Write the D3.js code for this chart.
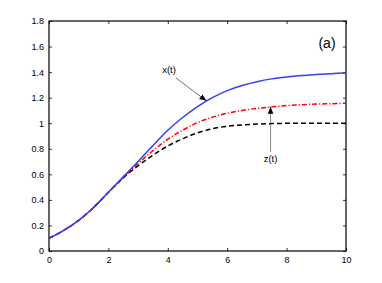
<!DOCTYPE html>
<html>
<head>
<meta charset="utf-8">
<script src="https://cdn.jsdelivr.net/npm/d3@7"></script>
<style>
  body { margin: 0; background: #fff; }
  text { font-family: "Liberation Sans", Arial, sans-serif; }
</style>
</head>
<body>
<svg id="chart" width="382" height="283"></svg>
<script>
// data
const tValues = [0, 0.5, 1, 1.5, 2, 2.5, 3, 3.5, 4, 4.5, 5, 5.5, 6, 6.5, 7, 7.5, 8, 8.5, 9, 9.5, 10];
const xSeries = [0.1, 0.162, 0.24, 0.34, 0.46, 0.58, 0.7, 0.825, 0.945, 1.045, 1.13, 1.2, 1.255, 1.295, 1.325, 1.347, 1.362, 1.373, 1.381, 1.388, 1.393];
const ySeries = [0.1, 0.162, 0.24, 0.34, 0.46, 0.575, 0.685, 0.785, 0.875, 0.945, 1.005, 1.047, 1.078, 1.1, 1.116, 1.128, 1.138, 1.145, 1.15, 1.153, 1.156];
const zSeries = [0.1, 0.162, 0.24, 0.34, 0.46, 0.572, 0.668, 0.75, 0.822, 0.878, 0.925, 0.957, 0.976, 0.987, 0.993, 0.997, 0.999, 1.0, 1.0, 1.0, 1.0];
const xTicks = [0, 2, 4, 6, 8, 10];
const yTicks = [0, 0.2, 0.4, 0.6, 0.8, 1, 1.2, 1.4, 1.6, 1.8];

const margin = { top: 21, right: 36, bottom: 32, left: 49 };
const width = 382, height = 283;
const innerWidth = width - margin.left - margin.right;
const innerHeight = height - margin.top - margin.bottom;

const svg = d3.select("#chart");
const g = svg.append("g").attr("transform", `translate(${margin.left},${margin.top})`);

const x = d3.scaleLinear().domain([0, 10]).range([0, innerWidth]);
const y = d3.scaleLinear().domain([0, 1.8]).range([innerHeight, 0]);

// axes, ticks pointing inward on all four sides
const styleAxis = (sel) => {
  sel.select(".domain").remove();
  sel.selectAll(".tick line").attr("stroke", "#000").attr("stroke-width", 0.8);
  sel.selectAll(".tick text").attr("fill", "#000").style("font-size", "9px");
};
const noLabels = (sel) => sel.selectAll(".tick text").remove();

g.append("g").attr("transform", `translate(0,${innerHeight})`)
  .call(d3.axisBottom(x).tickValues(xTicks).tickSize(-3).tickPadding(6).tickFormat(d3.format("d")))
  .call(styleAxis);
g.append("g")
  .call(d3.axisTop(x).tickValues(xTicks).tickSize(-3))
  .call(styleAxis).call(noLabels);
g.append("g")
  .call(d3.axisLeft(y).tickValues(yTicks).tickSize(-3).tickPadding(5).tickFormat(d3.format("~g")))
  .call(styleAxis);
g.append("g").attr("transform", `translate(${innerWidth},0)`)
  .call(d3.axisRight(y).tickValues(yTicks).tickSize(-3))
  .call(styleAxis).call(noLabels);

g.append("rect")
  .attr("width", innerWidth).attr("height", innerHeight)
  .attr("fill", "none").attr("stroke", "#000").attr("stroke-width", 1.2);

// curves
const line = d3.line().x((d, i) => x(tValues[i])).y((d) => y(d)).curve(d3.curveCatmullRom.alpha(0.5));

const series = [
  { values: zSeries, color: "#000", dash: "5,3" },
  { values: ySeries, color: "#ff0000", dash: "5,2,1.2,2" },
  { values: xSeries, color: "#2f3ff5", dash: null },
];

g.selectAll(".curve").data(series).enter()
  .append("path")
  .attr("class", "curve")
  .attr("d", (d) => line(d.values))
  .attr("fill", "none")
  .attr("stroke", (d) => d.color)
  .attr("stroke-width", 1.5)
  .attr("stroke-dasharray", (d) => d.dash);

// annotations
const defs = svg.append("defs");
defs.append("marker")
  .attr("id", "arrow")
  .attr("viewBox", "0 0 10 10")
  .attr("refX", 10).attr("refY", 5)
  .attr("markerWidth", 7).attr("markerHeight", 7)
  .attr("markerUnits", "userSpaceOnUse")
  .attr("orient", "auto")
  .append("path").attr("d", "M0,1 L10,5 L0,9 Z").attr("fill", "#000");

const xTip = 5.3, zTip = 7.46;
const xTipY = 1.175, zTipY = 1.129;

g.append("line")
  .attr("x1", 127).attr("y1", 57)
  .attr("x2", x(xTip)).attr("y2", y(xTipY))
  .attr("stroke", "#333").attr("stroke-width", 0.7)
  .attr("marker-end", "url(#arrow)");
g.append("text").attr("x", 120).attr("y", 52)
  .attr("text-anchor", "middle").style("font-size", "9.5px").text("x(t)");

g.append("line")
  .attr("x1", x(zTip)).attr("y1", 131)
  .attr("x2", x(zTip)).attr("y2", y(zTipY))
  .attr("stroke", "#555").attr("stroke-width", 0.7)
  .attr("marker-end", "url(#arrow)");
g.append("text").attr("x", x(zTip)).attr("y", 141)
  .attr("text-anchor", "middle").style("font-size", "9.5px").text("z(t)");

g.append("text").attr("x", 278).attr("y", 27)
  .attr("text-anchor", "middle").style("font-size", "14px").text("(a)");
</script>
</body>
</html>
